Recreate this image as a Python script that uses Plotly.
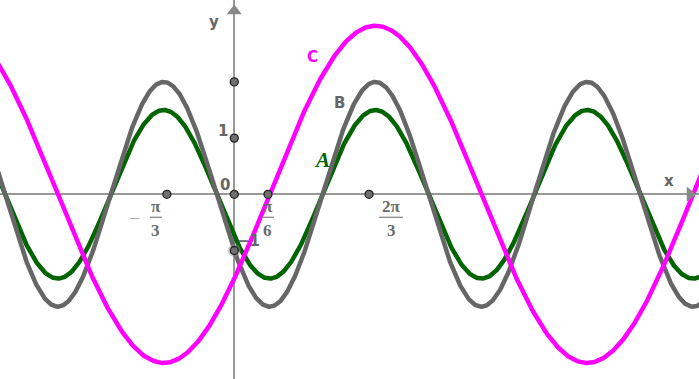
import numpy as np
import plotly.graph_objects as go

# ---- data (sinusoid parameters) ----
curve_names = ["A", "B", "C"]
amplitudes = [1.5, 2.0, 3.0]
omegas = [2.0, 2.0, 1.0]
phases = [-5 * np.pi / 6, -5 * np.pi / 6, -np.pi / 6]
curve_colors = ["#006400", "#666666", "#ff00ff"]

# marked points on the axes
x_points = [-1.0, 0.5, 2.0, 0.0]
y_points = [2.0, 1.0, -1.0]
x_tick_labels = [("−", "π", "3"), ("", "π", "6"), ("", "2π", "3")]
y_tick_labels = ["1", "0", "−1"]

# ---- view ----
W, H = 699, 379
x_range = [-3.476, 6.895]
y_range = [-3.286, 3.457]
dx = (x_range[1] - x_range[0]) / W   # data units per pixel
dy = (y_range[1] - y_range[0]) / H

fig = go.Figure()

xs = np.linspace(x_range[0] - 0.2, x_range[1] + 0.2, 1200)
for name, a, w, p, c in zip(curve_names, amplitudes, omegas, phases, curve_colors):
    fig.add_trace(go.Scatter(x=xs, y=a * np.sin(w * xs + p), mode="lines",
                             line=dict(color=c, width=4.5), hoverinfo="skip",
                             showlegend=False))

# axis arrow heads
fig.add_trace(go.Scatter(x=[x_range[1] - 9 * dx], y=[0], mode="markers",
                         marker=dict(symbol="triangle-right", size=13, color="#888888"),
                         showlegend=False, hoverinfo="skip"))
fig.add_trace(go.Scatter(x=[0], y=[y_range[1] - 11 * dy], mode="markers",
                         marker=dict(symbol="triangle-up", size=13, color="#888888"),
                         showlegend=False, hoverinfo="skip"))

# halo for selected point (0,-1)
fig.add_trace(go.Scatter(x=[0], y=[-1], mode="markers",
                         marker=dict(size=13, color="rgba(150,150,150,0.45)"),
                         showlegend=False, hoverinfo="skip"))

# points
px = x_points + [0] * len(y_points)
py = [0] * len(x_points) + y_points
fig.add_trace(go.Scatter(x=px, y=py, mode="markers",
                         marker=dict(size=8, color="#707070",
                                     line=dict(color="#222222", width=1.3)),
                         showlegend=False, hoverinfo="skip"))

ann = []
shapes = []
frac_font = dict(family="Liberation Serif", size=17, color="#6a6a6a")
x_shifts = [-11, 0, 22]
for xv, (sign, num, den), xs_ in zip(x_points[:3], x_tick_labels, x_shifts):
    ann.append(dict(x=xv, y=0, xref="x", yref="y", text="<b>%s</b>" % num,
                    showarrow=False, xshift=xs_, yshift=-12, font=frac_font))
    ann.append(dict(x=xv, y=0, xref="x", yref="y", text="<b>%s</b>" % den,
                    showarrow=False, xshift=xs_, yshift=-36, font=frac_font))
    half = 6 if len(num) == 1 else 12
    shapes.append(dict(type="line", xref="x", yref="y",
                       xsizemode="pixel", ysizemode="pixel",
                       xanchor=xv, yanchor=0,
                       x0=xs_ - half, x1=xs_ + half, y0=-23, y1=-23,
                       line=dict(color="#888888", width=1.3), layer="above"))
    if sign:
        ann.append(dict(x=xv, y=0, xref="x", yref="y", text=sign,
                        showarrow=False, xshift=xs_ - 21, yshift=-24,
                        font=dict(family="Liberation Serif", size=20, color="#aaaaaa")))

# y labels
y_lab_vals = [1, 0, -1]
y_lab_shift = [(-11, 7), (-9, 9), (14, 10)]
for v, t, (sx, sy) in zip(y_lab_vals, y_tick_labels, y_lab_shift):
    ann.append(dict(x=0, y=v, xref="x", yref="y", text="<b>%s</b>" % t,
                    showarrow=False, xshift=sx, yshift=sy,
                    font=dict(family="DejaVu Sans", size=15, color="#666666")))

# axis names
ann.append(dict(x=x_range[1], y=0, xref="x", yref="y", text="<b>x</b>", showarrow=False,
                xshift=-30, yshift=13, font=dict(family="DejaVu Sans", size=15, color="#666666")))
ann.append(dict(x=0, y=y_range[1], xref="x", yref="y", text="<b>y</b>", showarrow=False,
                xshift=-20, yshift=-22, font=dict(family="DejaVu Sans", size=15, color="#666666")))

# curve names
ann.append(dict(x=(313 - 234.3) * dx + 0, y=0, xref="x", yref="y", text="<b>C</b>", showarrow=False,
                yshift=194.3 - 56.5, font=dict(family="DejaVu Sans", size=15, color="#ff00ff")))
ann.append(dict(x=(339.3 - 234.3) * dx, y=0, xref="x", yref="y", text="<b>B</b>", showarrow=False,
                yshift=194.3 - 103.3, font=dict(family="DejaVu Sans", size=15, color="#666666")))
ann.append(dict(x=(321.7 - 234.3) * dx, y=0, xref="x", yref="y", text="<b><i>A</i></b>", showarrow=False,
                yshift=194.3 - 160, font=dict(family="Liberation Serif", size=21, color="#006400")))

fig.update_layout(
    width=W, height=H, margin=dict(l=0, r=0, t=0, b=0),
    paper_bgcolor="white", plot_bgcolor="white",
    xaxis=dict(range=x_range, showgrid=False, showticklabels=False, ticks="",
               zeroline=True, zerolinecolor="#999999", zerolinewidth=1.5, fixedrange=True),
    yaxis=dict(range=y_range, showgrid=False, showticklabels=False, ticks="",
               zeroline=True, zerolinecolor="#999999", zerolinewidth=1.5, fixedrange=True),
    annotations=ann, shapes=shapes, showlegend=False,
)

fig.write_html("out.html", config={"displayModeBar": False})
